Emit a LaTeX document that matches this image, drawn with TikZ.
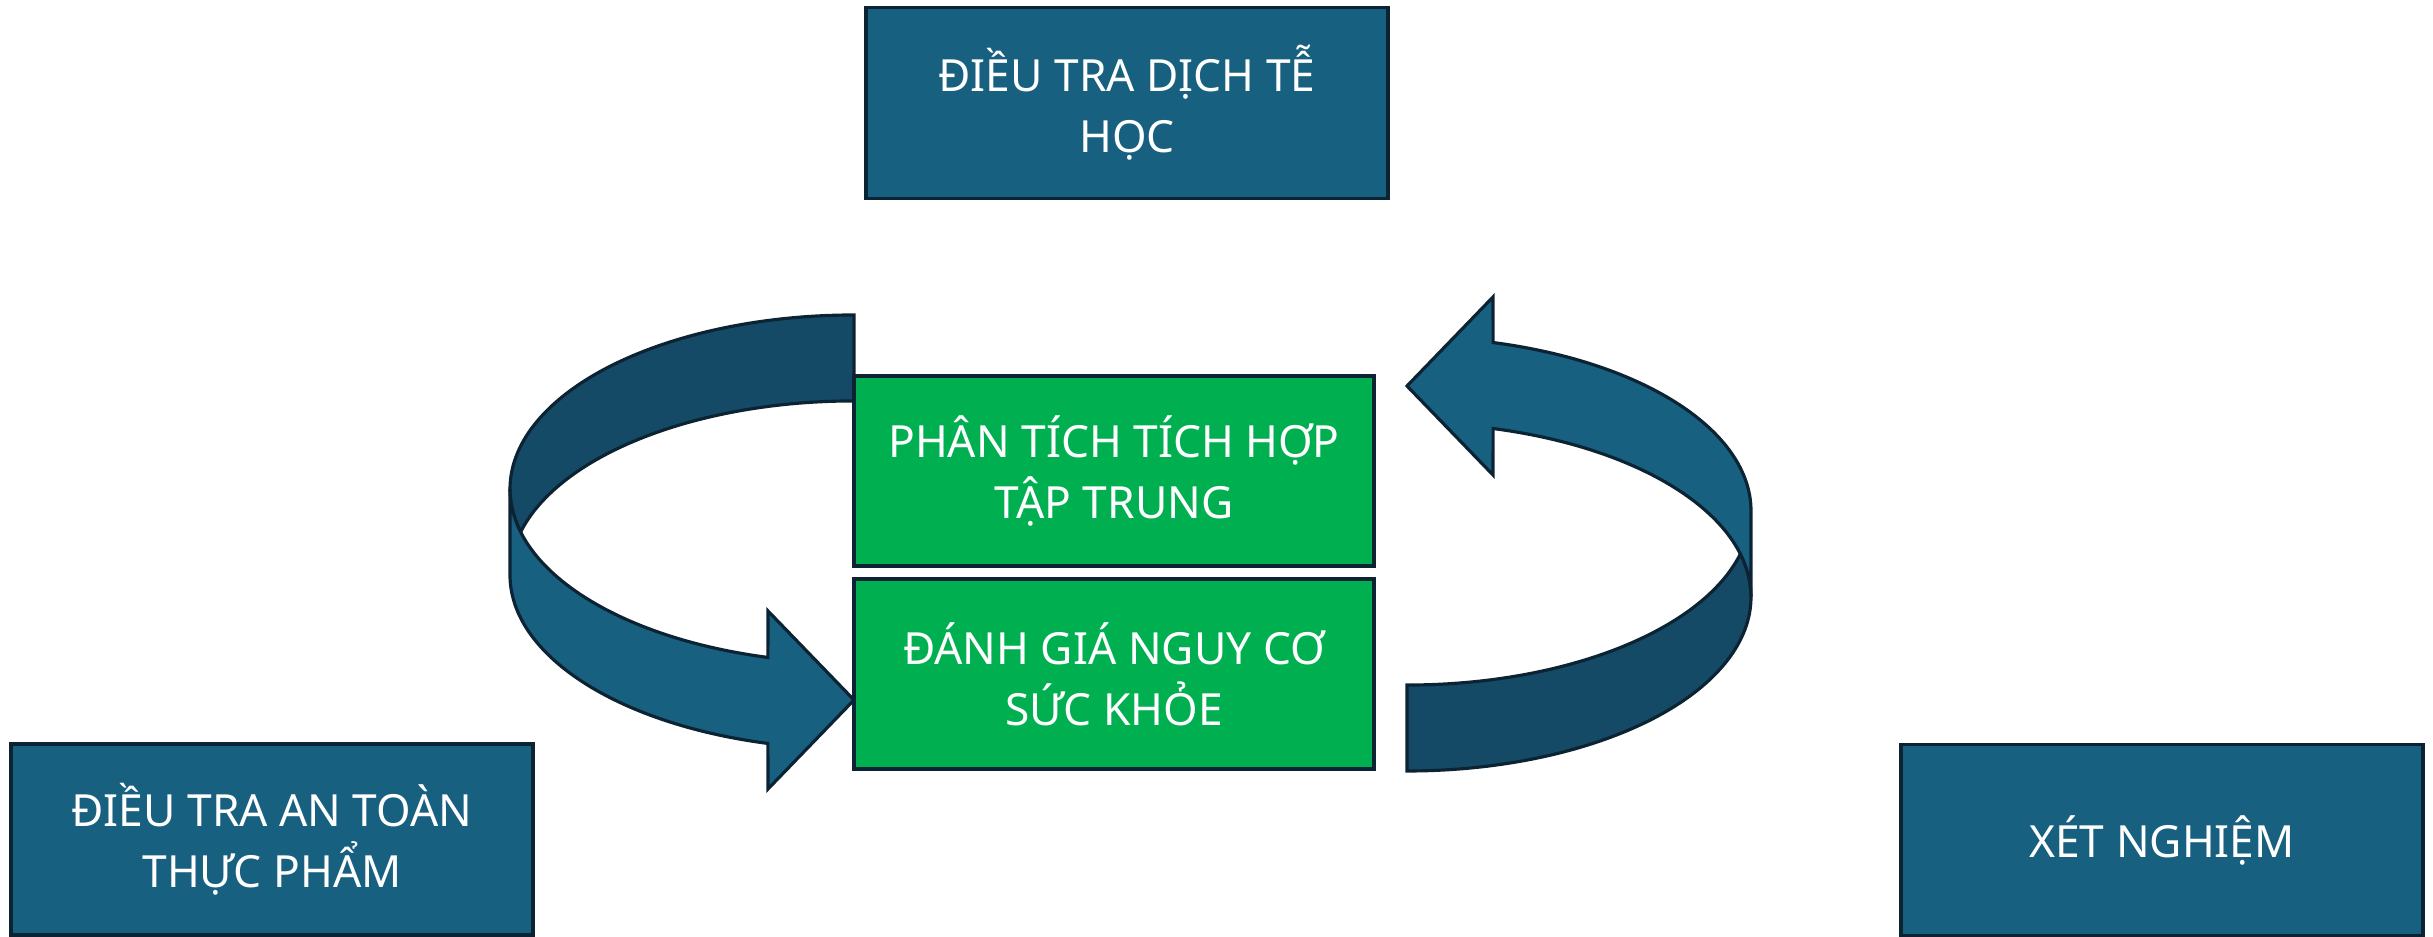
\documentclass[tikz,border=0pt]{standalone}
\usepackage{fontspec}
\setmainfont{Noto Sans}
\usetikzlibrary{calc}
\definecolor{xanhhop}{RGB}{23,96,128}
\definecolor{xanhtoi}{RGB}{21,74,102}
\definecolor{vien}{RGB}{12,35,52}
\definecolor{xanhla}{RGB}{0,176,80}

\begin{document}
\begin{tikzpicture}[x=0.01cm,y=0.01cm,
    hop/.style={draw=vien,line width=1pt,fill=xanhhop,text=white,align=center,
        minimum width=5.22cm,minimum height=1.91cm,inner sep=0pt,
        font=\fontsize{12.6}{17.3}\selectfont},
    hopla/.style={hop,fill=xanhla,minimum width=5.20cm,minimum height=1.90cm},
    bang/.style={draw=vien,line width=0.9pt,line join=miter}]
\useasboundingbox (0,0) rectangle (2433,937);

% hai mui ten vong, cai thu hai xoay 180 do
\foreach \g in {0,180}{
  \begin{scope}[rotate around={\g:(1130.5,394)}]
    \draw[bang,fill=xanhtoi] (854,622) arc[start angle=90,end angle=194.3,x radius=344,y radius=174]
        arc[start angle=165.7,end angle=90,x radius=344,y radius=174] -- cycle;
    \draw[bang,fill=xanhhop] (510,448) arc[start angle=180,end angle=255.5,x radius=344,y radius=174]
        -- (768,326) -- (854,237) -- (768,148)
        -- ([shift={(854,362)}]255.5:344 and 174)
        arc[start angle=255.5,end angle=180,x radius=344,y radius=174] -- cycle;
  \end{scope}
}

\node[hop] (dichte) at (1127,834) {ĐIỀU TRA DỊCH TỄ\\HỌC};
\node[hopla] (phantich) at (1114,466) {PHÂN TÍCH TÍCH HỢP\\TẬP TRUNG};
\node[hopla] (danhgia) at (1114,263) {ĐÁNH GIÁ NGUY CƠ\\SỨC KHỎE};
\node[hop] (antoan) at (272,97.5) {ĐIỀU TRA AN TOÀN\\THỰC PHẨM};
\node[hop] (xetnghiem) at (2162,97) {XÉT NGHIỆM};

\end{tikzpicture}
\end{document}
